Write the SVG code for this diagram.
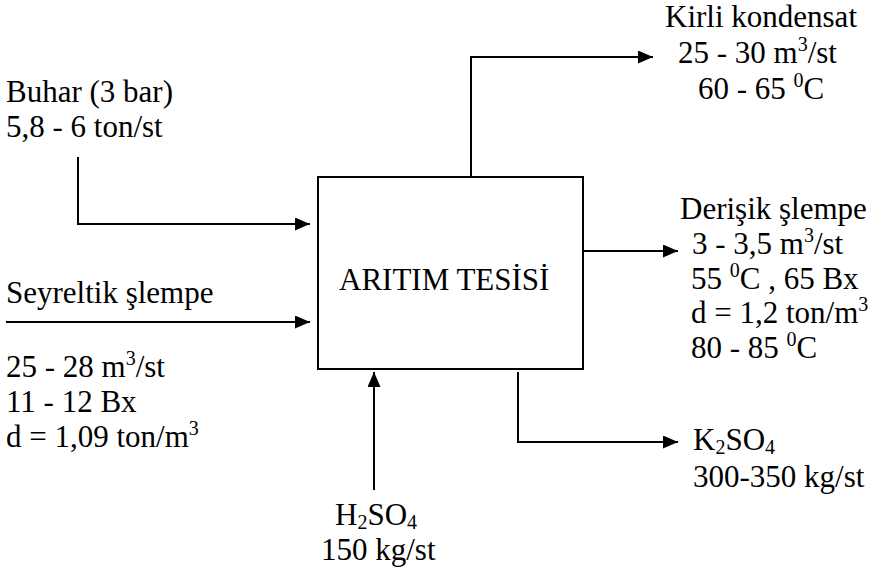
<svg xmlns="http://www.w3.org/2000/svg" width="884" height="572" viewBox="0 0 884 572">
<defs>
<style>
text{font-family:'Liberation Serif','Times New Roman',serif;font-size:31px;fill:#000}
.sup{font-size:20px}
.ln{fill:none;stroke:#000;stroke-width:2}
</style>
<marker id="ah" markerUnits="userSpaceOnUse" markerWidth="16" markerHeight="14" refX="15" refY="6.5" orient="auto">
<path d="M0,0 L15,6.5 L0,13 z" fill="#000"/>
</marker>
</defs>
<rect width="884" height="572" fill="#fff"/>
<g id="connectors">
<path class="ln" d="M471,177 V57 H653" marker-end="url(#ah)"/>
<path class="ln" d="M78,157 V224 H310" marker-end="url(#ah)"/>
<path class="ln" d="M6,322 H310" marker-end="url(#ah)"/>
<path class="ln" d="M583,251 H678" marker-end="url(#ah)"/>
<path class="ln" d="M518,372 V442 H678" marker-end="url(#ah)"/>
<path class="ln" d="M374,490 V372" marker-end="url(#ah)"/>
</g>
<g font-family="Liberation Serif" font-size="31">
<g id="aritim">
<rect x="318" y="177" width="265" height="192" fill="#fff" stroke="#000" stroke-width="2"/>
<text x="339" y="290">ARITIM TESİSİ</text>
</g>
<g id="kirli">
<text x="665" y="27">Kirli kondensat</text>
<text x="678" y="63">25 - 30 m<tspan class="sup" dy="-12">3</tspan><tspan dy="12">/st</tspan></text>
<text x="698" y="99">60 - 65 <tspan class="sup" dy="-12">0</tspan><tspan dy="12">C</tspan></text>
</g>
<g id="buhar">
<text x="6" y="102">Buhar (3 bar)</text>
<text x="6" y="137">5,8 - 6 ton/st</text>
</g>
<g id="seyreltik">
<text x="6" y="303">Seyreltik şlempe</text>
<text x="6" y="377">25 - 28 m<tspan class="sup" dy="-12">3</tspan><tspan dy="12">/st</tspan></text>
<text x="6" y="412">11 - 12 Bx</text>
<text x="6" y="447">d = 1,09 ton/m<tspan class="sup" dy="-12">3</tspan></text>
</g>
<g id="derisik">
<text x="680" y="219">Derişik şlempe</text>
<text x="692" y="254">3 - 3,5 m<tspan class="sup" dy="-12">3</tspan><tspan dy="12">/st</tspan></text>
<text x="691" y="289">55 <tspan class="sup" dy="-12">0</tspan><tspan dy="12">C , 65 Bx</tspan></text>
<text x="691" y="323">d = 1,2 ton/m<tspan class="sup" dy="-12">3</tspan></text>
<text x="691" y="358">80 - 85 <tspan class="sup" dy="-12">0</tspan><tspan dy="12">C</tspan></text>
</g>
<g id="k2so4">
<text x="693" y="450">K<tspan class="sup" dy="4">2</tspan><tspan dy="-4">SO</tspan><tspan class="sup" dy="4">4</tspan></text>
<text x="693" y="487">300-350 kg/st</text>
</g>
<g id="h2so4">
<text x="335" y="525">H<tspan class="sup" dy="4">2</tspan><tspan dy="-4">SO</tspan><tspan class="sup" dy="4">4</tspan></text>
<text x="321" y="560">150 kg/st</text>
</g>
</g>
</svg>
